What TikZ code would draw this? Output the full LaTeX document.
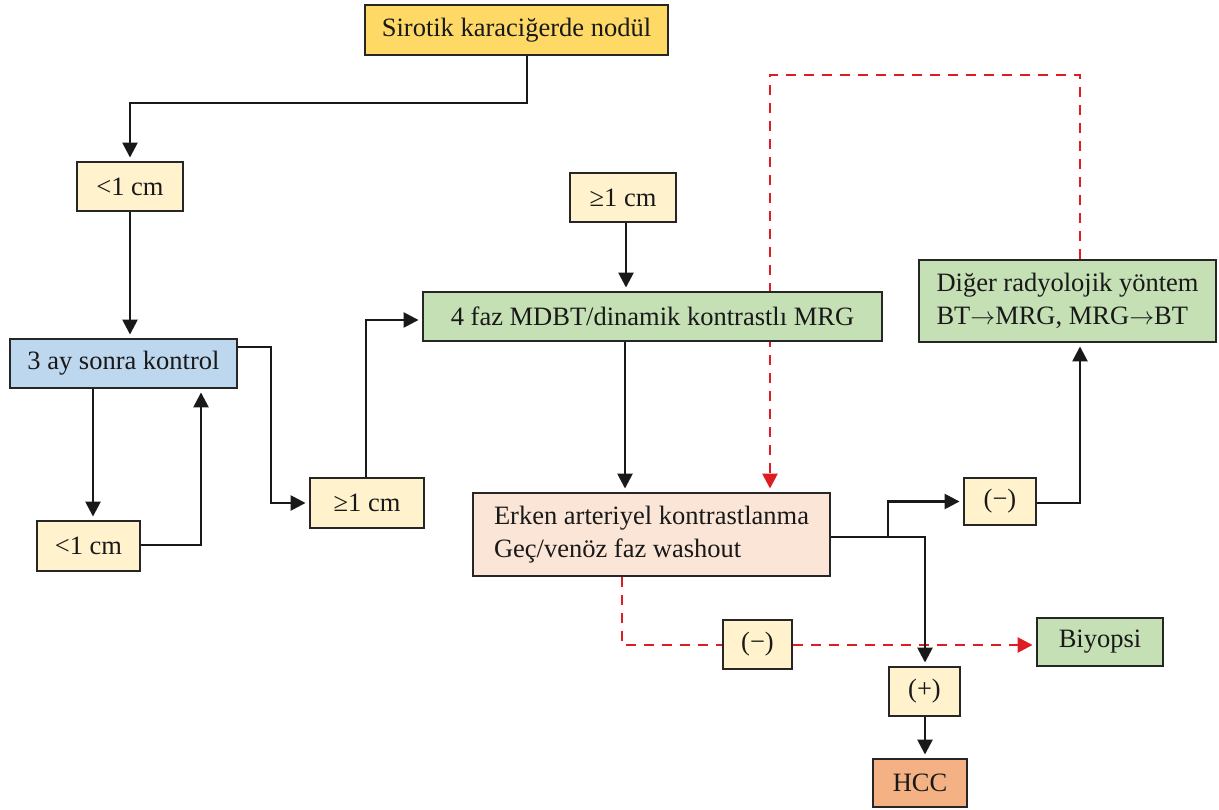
\documentclass[tikz,border=0pt]{standalone}
\usepackage{fontspec}
\setmainfont{Liberation Serif}
\usetikzlibrary{arrows.meta}
\pgfdeclarelayer{bg}
\pgfsetlayers{bg,main}

\definecolor{gold}{HTML}{FFD966}
\definecolor{cream}{HTML}{FFF2CC}
\definecolor{skyblue}{HTML}{BDD7EE}
\definecolor{sage}{HTML}{C5E0B4}
\definecolor{peach}{HTML}{FBE5D6}
\definecolor{salmon}{HTML}{F4B183}
\definecolor{dashred}{HTML}{DD1C24}

\newcommand{\toarrow}{\ensuremath{\rightarrow}}

\tikzset{
  box/.style={draw=black!85, line width=2.9pt, inner sep=0pt,
    font=\fontsize{26.5}{33}\selectfont, text=black!90},
  conn/.style={line width=2.6pt, black!90},
  arr/.style={conn, -{Triangle[length=15pt,width=15pt]}, shorten >=3pt},
  redconn/.style={line width=2.7pt, dashred, dash pattern=on 10pt off 8pt},
  redarr/.style={redconn, -{Triangle[length=15pt,width=15pt]}, shorten >=3pt},
}

\begin{document}
\begin{tikzpicture}[x=1pt, y=-1pt]
\useasboundingbox (0,0) rectangle (1219,810);

% boxes
\node[box, fill=gold,    minimum width=303pt, minimum height=50pt] (top)  at (516.5,30)  {Sirotik karaciğerde nodül};
\node[box, fill=cream,   minimum width=106pt, minimum height=49pt] (lt1)  at (130,186.5) {<1 cm};
\node[box, fill=skyblue, minimum width=227pt, minimum height=49pt] (ctrl) at (123.5,363.5) {3 ay sonra kontrol};
\node[box, fill=cream,   minimum width=103pt, minimum height=50pt] (lt2)  at (88.5,546)  {<1 cm};
\node[box, fill=cream,   minimum width=114pt, minimum height=50pt] (geA)  at (367,503)   {≥1 cm};
\node[box, fill=cream,   minimum width=106pt, minimum height=49pt] (geB)  at (623,197.5) {≥1 cm};
\node[box, fill=sage,    minimum width=459pt, minimum height=49pt] (mdbt) at (652.5,316.5) {4 faz MDBT/dinamik kontrastlı MRG};
\node[box, fill=peach,   minimum width=357pt, minimum height=83pt, align=left] (erken) at (651.5,534.5)
  {Erken arteriyel kontrastlanma\\Geç/venöz faz washout};
\node[box, fill=cream,   minimum width=72pt,  minimum height=47pt] (negA) at (1000,501.5) {(−)};
\node[box, fill=sage,    minimum width=297pt, minimum height=82pt, align=left] (diger) at (1067.5,301)
  {Diğer radyolojik yöntem\\BT\toarrow MRG, MRG\toarrow BT};
\node[box, fill=cream,   minimum width=69pt,  minimum height=49pt] (negB) at (757.5,644.5) {(−)};
\node[box, fill=sage,    minimum width=126pt, minimum height=48pt] (biy)  at (1100,642)  {Biyopsi};
\node[box, fill=cream,   minimum width=71pt,  minimum height=49pt] (plus) at (924.5,691.5) {(+)};
\node[box, fill=salmon,  minimum width=94pt,  minimum height=48pt] (hcc)  at (920,783)   {HCC};

% bend points of the connectors
\coordinate (c1) at (527,103);
\coordinate (c2) at (93,0);
\coordinate (c3) at (201,545);
\coordinate (c4) at (237,347);
\coordinate (c5) at (271,347);
\coordinate (c6) at (366,320);
\coordinate (c7) at (626,0);
\coordinate (c8) at (625,0);
\coordinate (c9) at (925,537);
\coordinate (c10) at (888,537);
\coordinate (c11) at (1080,503);
\coordinate (r1) at (1080,75);
\coordinate (r2) at (770,75);
\coordinate (r3) at (622,645);

\begin{pgfonlayer}{bg}
  % dashed red paths
  \draw[redarr] (r1 |- diger.north) -- (r1) -- (r2) -- (r2 |- erken.north);
  \draw[redconn] (r3 |- erken.south) -- (r3) -- (r3 -| negB.west);
  \draw[redarr] (negB.east |- r3) -- (biy.west |- r3);

  % solid connectors
  \draw[arr] (c1 |- top.south) -- (c1) -- (lt1.north |- c1) -- (lt1.north);
  \draw[arr] (lt1.south) -- (lt1.south |- ctrl.north);
  \draw[arr] (c2 |- ctrl.south) -- (c2 |- lt2.north);
  \draw[arr] (lt2.east |- c3) -- (c3) -- (c3 |- ctrl.south);
  \draw[arr] (c4) -- (c5) -- (c5 |- geA.west) -- (geA.west);
  \draw[arr] (c6 |- geA.north) -- (c6) -- (mdbt.west |- c6);
  \draw[arr] (c7 |- geB.south) -- (c7 |- mdbt.north);
  \draw[arr] (c8 |- mdbt.south) -- (c8 |- erken.north);
  \draw[arr] (erken.east |- c9) -- (c9) -- (c9 |- plus.north);
  \draw[arr] (c10) -- (c10 |- negA.west) -- (negA.west);
  \draw[arr] (negA.east |- c11) -- (c11) -- (c11 |- diger.south);
  \draw[arr] (plus.south -| c9) -- (c9 |- hcc.north);
\end{pgfonlayer}
\end{tikzpicture}
\end{document}
